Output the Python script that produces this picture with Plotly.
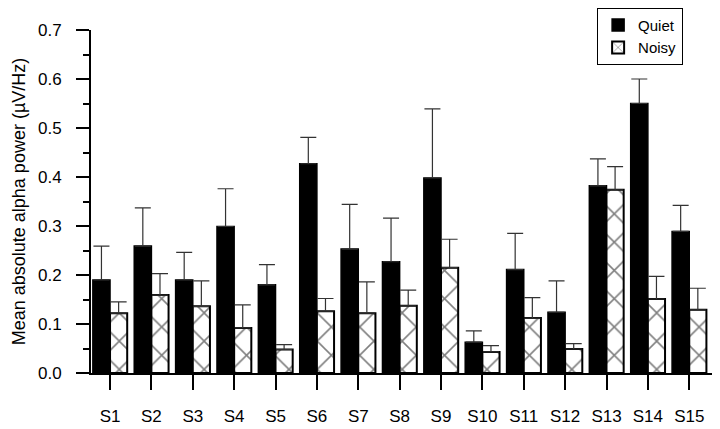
import plotly.graph_objects as go

subjects = ["S1", "S2", "S3", "S4", "S5", "S6", "S7", "S8", "S9", "S10",
            "S11", "S12", "S13", "S14", "S15"]
quiet = [0.190, 0.259, 0.190, 0.299, 0.180, 0.427, 0.253, 0.227, 0.398, 0.063,
         0.211, 0.124, 0.382, 0.550, 0.289]
quiet_err = [0.069, 0.078, 0.056, 0.077, 0.041, 0.054, 0.091, 0.089, 0.141, 0.023,
             0.074, 0.064, 0.055, 0.050, 0.053]
noisy = [0.122, 0.159, 0.136, 0.092, 0.048, 0.126, 0.122, 0.137, 0.215, 0.043,
         0.112, 0.049, 0.374, 0.151, 0.129]
noisy_err = [0.023, 0.044, 0.052, 0.047, 0.010, 0.026, 0.064, 0.032, 0.058, 0.013,
             0.042, 0.011, 0.047, 0.046, 0.044]
y_ticks = [0.0, 0.1, 0.2, 0.3, 0.4, 0.5, 0.6, 0.7]

zeros = [0] * len(subjects)

fig = go.Figure()
fig.add_trace(go.Bar(
    name="Quiet", x=subjects, y=quiet,
    marker=dict(color="black", line=dict(color="black", width=1.5)),
    error_y=dict(type="data", array=quiet_err, arrayminus=zeros, symmetric=False,
                 color="#333333", thickness=1.2, width=8),
))
fig.add_trace(go.Bar(
    name="Noisy", x=subjects, y=noisy,
    marker=dict(color="white", line=dict(color="black", width=2),
                pattern=dict(shape="x", fgcolor="black", bgcolor="white",
                             size=20, solidity=0.15)),
    error_y=dict(type="data", array=noisy_err, arrayminus=zeros, symmetric=False,
                 color="#333333", thickness=1.2, width=8),
))

fig.update_layout(
    width=720, height=429,
    margin=dict(l=91, r=8, t=30, b=56),
    paper_bgcolor="white", plot_bgcolor="white",
    barmode="group", bargap=0.17, bargroupgap=0,
    font=dict(family="Liberation Sans, Arial, sans-serif", color="black", size=17),
    showlegend=True,
    legend=dict(x=0.815, y=1.065, xanchor="left", yanchor="top",
                bordercolor="black", borderwidth=1, bgcolor="white",
                font=dict(size=15), tracegroupgap=0, itemwidth=30),
)
fig.update_xaxes(
    range=[-0.46, 14.55], showline=True, linecolor="black", linewidth=2,
    ticks="outside", ticklen=15, tickwidth=2, tickcolor="black",
    showgrid=False, zeroline=False, tickfont=dict(size=17), automargin=False,
    ticklabelstandoff=12,
)
fig.update_yaxes(
    range=[0, 0.7], tickvals=y_ticks, ticktext=[f"{v:.1f}" for v in y_ticks],
    showline=True, linecolor="black", linewidth=2,
    ticks="outside", ticklen=13, tickwidth=2, tickcolor="black",
    minor=dict(dtick=0.05, ticks="outside", ticklen=6, tickwidth=2, tickcolor="black"),
    showgrid=False, zeroline=False, tickfont=dict(size=17), automargin=False,
    ticklabelstandoff=11,
    title=dict(text="Mean absolute alpha power (µV/Hz)", font=dict(size=18), standoff=8),
)

fig.write_html(
    "out.html",
    config={"displayModeBar": False},
    post_script="document.body.style.margin='0';document.body.style.overflow='hidden';",
)
